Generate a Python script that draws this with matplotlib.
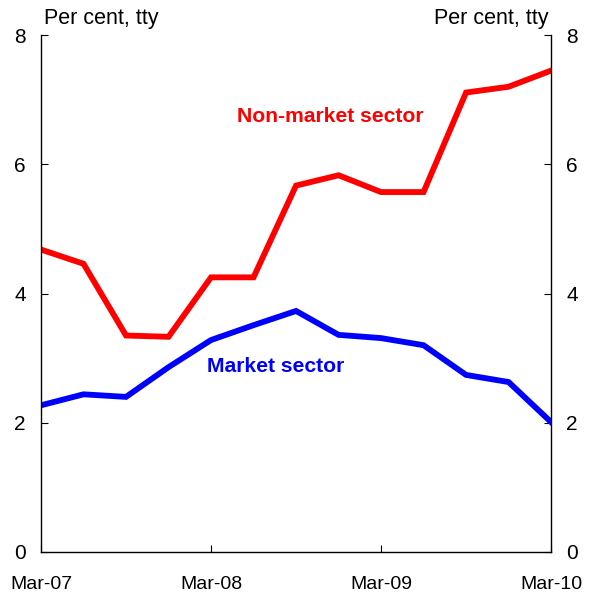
import matplotlib
matplotlib.use('Agg')
from matplotlib import pyplot as plt

plt.rcParams['font.family'] = ['Liberation Sans', 'DejaVu Sans']

quarters = ['Mar-07', 'Jun-07', 'Sep-07', 'Dec-07', 'Mar-08', 'Jun-08', 'Sep-08',
            'Dec-08', 'Mar-09', 'Jun-09', 'Sep-09', 'Dec-09', 'Mar-10']
non_market = [4.68, 4.46, 3.35, 3.33, 4.25, 4.25, 5.67, 5.83, 5.57, 5.57, 7.11, 7.20, 7.45]
market = [2.27, 2.44, 2.40, 2.86, 3.28, 3.51, 3.73, 3.36, 3.31, 3.20, 2.74, 2.63, 2.01]
tick_labels = ['Mar-07', 'Mar-08', 'Mar-09', 'Mar-10']

fig = plt.figure(figsize=(5.89, 5.99), dpi=100)
ax = fig.add_axes([0.0696, 0.0785, 0.866, 0.863])
x = list(range(len(quarters)))

ax.plot(x, non_market, c='#ff0000', lw=4.2, solid_joinstyle='miter')
ax.plot(x, market, c='#0000ff', lw=4.2, solid_joinstyle='miter')

ax.set_xlim(0, 12)
ax.set_ylim(0, 8)
ax.set_xticks([0, 4, 8, 12])
ax.set_xticklabels(tick_labels)
ax.set_yticks([0, 2, 4, 6, 8])
ax.tick_params(axis='both', direction='in', length=5, width=0.8)
ax.tick_params(axis='x', pad=17, labelsize=14)
ax.tick_params(axis='y', pad=11, labelsize=15, right=True, labelright=True)

for s in ax.spines.values():
    s.set_linewidth(1.0)
ax.spines['top'].set_visible(False)

ax.text(0.005, 1.012, 'Per cent, tty', transform=ax.transAxes, fontsize=15.5,
        ha='left', va='bottom')
ax.text(0.995, 1.012, 'Per cent, tty', transform=ax.transAxes, fontsize=15.5,
        ha='right', va='bottom')

ax.text(6.8, 6.74, 'Non-market sector', color='#ff0000', fontsize=15.2,
        fontweight='bold', ha='center', va='center')
ax.text(3.9, 2.87, 'Market sector', color='#0000ff', fontsize=15.2,
        fontweight='bold', ha='left', va='center')

fig.savefig('out.png', dpi=100)
